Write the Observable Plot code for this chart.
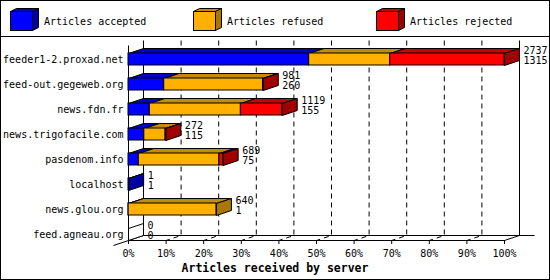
<!DOCTYPE html>
<html>
<head>
<meta charset="utf-8">
<script src="https://cdn.jsdelivr.net/npm/d3@7"></script>
<script src="https://cdn.jsdelivr.net/npm/@observablehq/plot@0.6"></script>
<style>
  body { margin: 0; background: #fff; }
  #wrap { position: relative; width: 548px; height: 278px; border: 1px solid #000; background: #fff;
          font-family: "DejaVu Sans Mono", monospace; color: #000; overflow: hidden; }
  #legend { position: relative; height: 35px; border-bottom: 1px solid #000; }
  .item { position: absolute; top: 7px; height: 24px; }
  .item svg { position: absolute; left: 0; top: 0; }
  .item span { position: absolute; left: 34px; top: 8px; font-size: 10px; line-height: 12px; white-space: nowrap; }
  #chart svg { display: block; }
  #title { height: 19px; line-height: 19px; text-align: center; font-weight: bold; font-size: 11.5px; }
</style>
</head>
<body>
<div id="wrap">
  <div id="legend"></div>
  <div id="chart"></div>
  <div id="title"></div>
</div>
<script>
// ---- data ----
const servers = ["feeder1-2.proxad.net", "feed-out.gegeweb.org", "news.fdn.fr", "news.trigofacile.com",
                 "pasdenom.info", "localhost", "news.glou.org", "feed.agneau.org"];
const accepted = [1315, 260, 155, 115, 75, 1, 1, 0];
const refused  = [590, 719, 663, 155, 587, 0, 639, 0];
const rejected = [832, 2, 301, 2, 27, 0, 0, 0];
const seriesNames = ["Articles accepted", "Articles refused", "Articles rejected"];
const xTicks = [0, 10, 20, 30, 40, 50, 60, 70, 80, 90, 100];
const xTitle = "Articles received by server";

// ---- styles ----
const frontColors = ["#0000ff", "#ffb000", "#ff0000"];
const topColors   = ["#0000c8", "#c48c00", "#c80000"];
const sideColors  = ["#0000a0", "#a87800", "#a00000"];

// ---- legend ----
const legend = document.getElementById("legend");
seriesNames.forEach((name, k) => {
  const it = document.createElement("div");
  it.className = "item";
  it.style.left = (9 + k * 183) + "px";
  it.innerHTML =
    `<svg width="30" height="24">
       <polygon points="0.5,3.5 22.5,3.5 28.5,0.5 6.5,0.5" fill="${topColors[k]}" stroke="#000"/>
       <polygon points="22.5,3.5 28.5,0.5 28.5,19.5 22.5,22.5" fill="${sideColors[k]}" stroke="#000"/>
       <rect x="0.5" y="3.5" width="22" height="19" fill="${frontColors[k]}" stroke="#000"/>
     </svg><span>${name}</span>`;
  legend.appendChild(it);
});
document.getElementById("title").textContent = xTitle;

// ---- geometry ----
const W = 548, H = 222;
const X0 = 127, X1 = 503;          // front 0% .. 100%
const Y0 = 8, Y1 = 208;            // row index 0 .. n
const n = servers.length;
const DEPTH_X = 15, DEPTH_Y = 5;   // 3D depth in px
const dxu = DEPTH_X * 100 / (X1 - X0);
const dyu = DEPTH_Y * n / (Y1 - Y0);
const BAR_TOP = 0.32, BAR_BOTTOM = 0.8;
const floorY = n - 1 + BAR_BOTTOM;

const series = [accepted, refused, rejected];
const totals = servers.map((_, i) => accepted[i] + refused[i] + rejected[i]);
const maxTotal = d3.max(totals);

const segments = [];
const rows = servers.map((s, i) => {
  let start = 0, last = null;
  series.forEach((vals, k) => {
    const v = vals[i];
    if (v > 0) {
      const seg = {row: i, k, x1: start / maxTotal * 100, x2: (start + v) / maxTotal * 100};
      segments.push(seg);
      last = seg;
    }
    start += v;
  });
  return {row: i, name: s, total: totals[i], acc: accepted[i],
          end: totals[i] / maxTotal * 100, sideFill: last ? sideColors[last.k] : "#ffffff"};
});

// polygons for top faces and side faces
const tops = [];
segments.forEach((s, j) => {
  const T = s.row + BAR_TOP;
  [[s.x1, T], [s.x2, T], [s.x2 + dxu, T - dyu], [s.x1 + dxu, T - dyu], [s.x1, T]]
    .forEach(([x, y]) => tops.push({id: j, x, y, fill: topColors[s.k]}));
});
const sides = [];
rows.forEach(r => {
  const T = r.row + BAR_TOP, B = r.row + BAR_BOTTOM, e = r.end;
  [[e, T], [e + dxu, T - dyu], [e + dxu, B - dyu], [e, B], [e, T]]
    .forEach(([x, y]) => sides.push({id: r.row, x, y, fill: r.sideFill}));
});

// frame lines
const frame = [];
const addLine = (id, pts) => pts.forEach(([x, y]) => frame.push({id, x, y}));
addLine(0, [[0, 0], [0, floorY]]);
addLine(1, [[dxu, -dyu], [dxu, floorY - dyu]]);
addLine(2, [[100 + dxu, -dyu], [100 + dxu, floorY - dyu]]);
addLine(3, [[0, floorY], [100, floorY], [100 + dxu, floorY - dyu]]);
addLine(4, [[dxu, floorY - dyu], [100 + 2 * dxu, floorY - dyu]]);
addLine(5, [[-dxu, floorY + dyu], [dxu, floorY - dyu]]);

const grid = [];
xTicks.filter(t => t > 0 && t < 100).forEach(t => {
  [[t + dxu, -dyu], [t + dxu, floorY - dyu], [t, floorY]].forEach(([x, y]) => grid.push({id: t, x, y}));
});

const chart = Plot.plot({
  width: W, height: H,
  marginLeft: X0, marginRight: W - X1, marginTop: 3, marginBottom: H - (Y0 + floorY * (Y1 - Y0) / n),
  style: {fontFamily: "DejaVu Sans Mono", fontSize: "10px", background: "transparent", overflow: "visible", color: "#000"},
  x: {domain: [0, 100], range: [X0, X1], ticks: 10, tickFormat: d => d + "%", tickSize: 4, tickPadding: 5, label: null},
  y: {domain: [0, n], range: [Y0, Y1], axis: null},
  color: {type: "identity"},
  marks: [
    Plot.line(grid, {x: "x", y: "y", z: "id", stroke: "#000", strokeWidth: 1, strokeDasharray: "5,4", strokeLinejoin: "miter", strokeLinecap: "butt"}),
    Plot.line(frame, {x: "x", y: "y", z: "id", stroke: "#000", strokeWidth: 1, strokeLinejoin: "miter", strokeLinecap: "butt"}),
    Plot.line(tops, {x: "x", y: "y", z: "id", fill: "fill", stroke: "#000", strokeWidth: 1, strokeLinejoin: "miter"}),
    Plot.line(sides, {x: "x", y: "y", z: "id", fill: "fill", stroke: "#000", strokeWidth: 1, strokeLinejoin: "miter"}),
    Plot.rect(segments, {x1: "x1", x2: "x2", y1: d => d.row + BAR_TOP, y2: d => d.row + BAR_BOTTOM,
                         fill: d => frontColors[d.k], stroke: "#000", strokeWidth: 1}),
    Plot.text(rows, {x: "end", y: d => d.row + BAR_TOP, dx: 19, dy: -2.5, text: d => String(d.total), textAnchor: "start", fill: "#000"}),
    Plot.text(rows, {x: "end", y: d => d.row + BAR_TOP, dx: 19, dy: 7.5, text: d => String(d.acc), textAnchor: "start", fill: "#000"}),
    Plot.text(rows, {x: 0, y: d => d.row + (BAR_TOP + BAR_BOTTOM) / 2, dx: -5, text: "name", textAnchor: "end", fill: "#000"})
  ]
});
document.getElementById("chart").appendChild(chart);
</script>
</body>
</html>
